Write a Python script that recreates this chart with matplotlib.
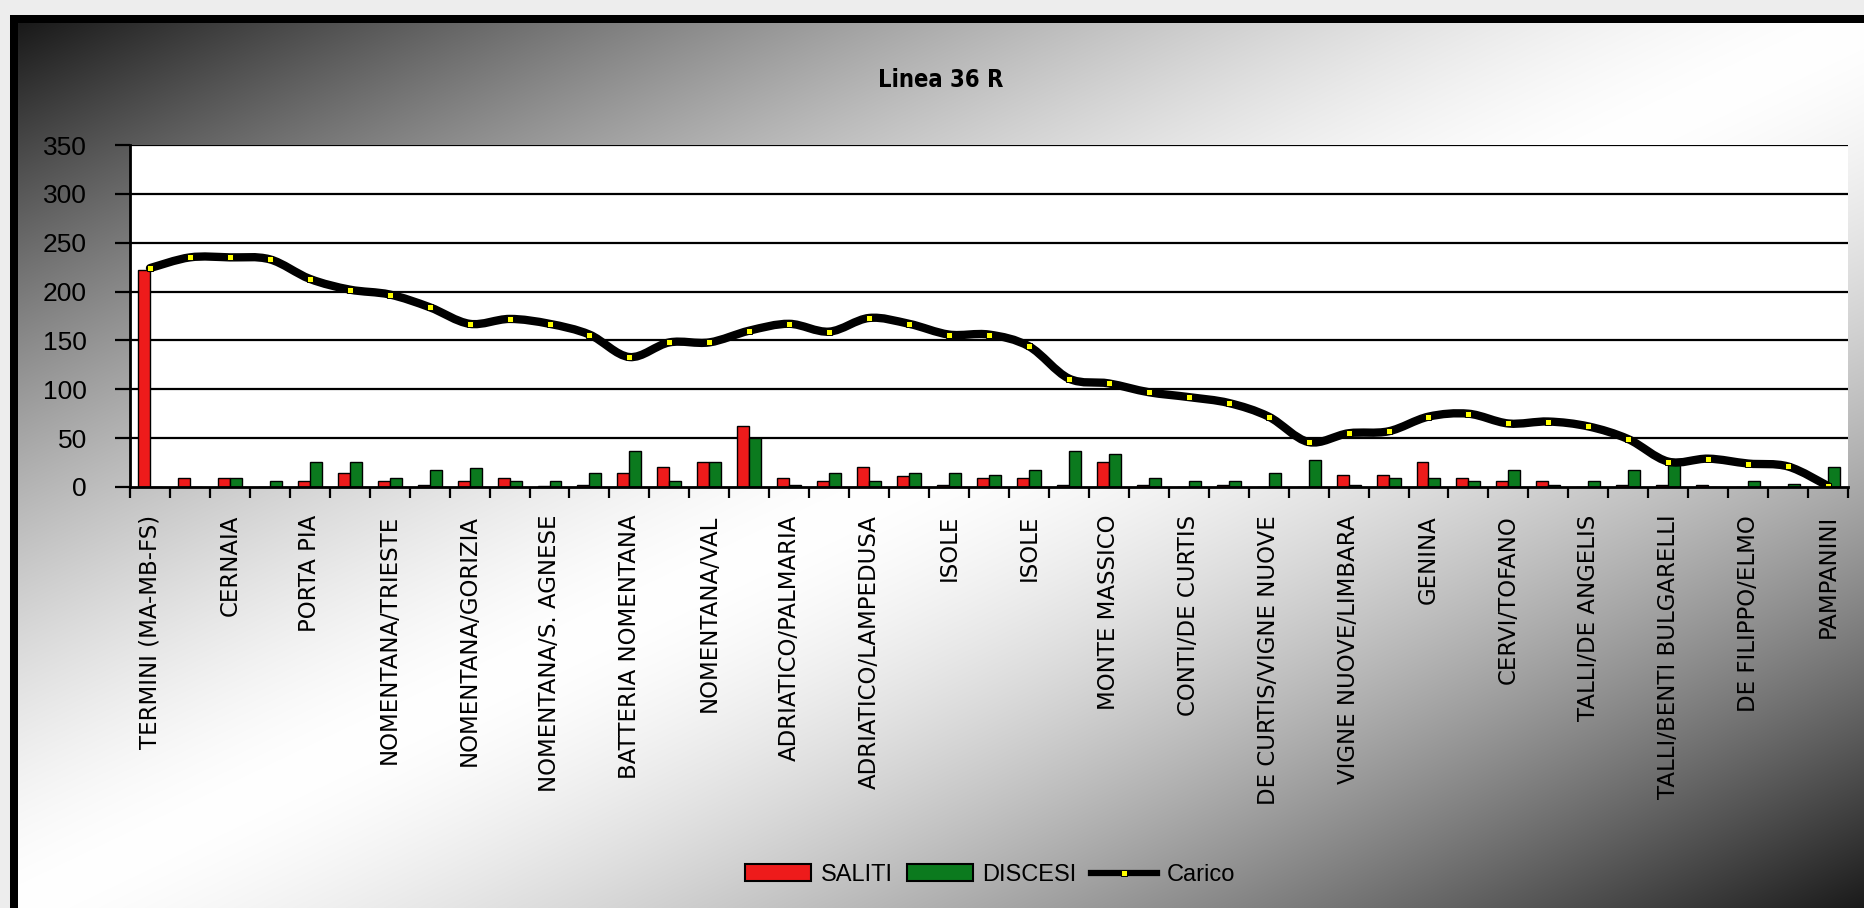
import numpy as np
import matplotlib
matplotlib.use("Agg")
import matplotlib.pyplot as plt
from matplotlib.path import Path
from matplotlib.patches import PathPatch, Patch
from matplotlib.lines import Line2D

# ---------------- data ----------------
labels = ["TERMINI (MA-MB-FS)", "CERNAIA", "PORTA PIA", "NOMENTANA/TRIESTE",
          "NOMENTANA/GORIZIA", "NOMENTANA/S. AGNESE", "BATTERIA NOMENTANA",
          "NOMENTANA/VAL", "ADRIATICO/PALMARIA", "ADRIATICO/LAMPEDUSA", "ISOLE",
          "ISOLE", "MONTE MASSICO", "CONTI/DE CURTIS", "DE CURTIS/VIGNE NUOVE",
          "VIGNE NUOVE/LIMBARA", "GENINA", "CERVI/TOFANO", "TALLI/DE ANGELIS",
          "TALLI/BENTI BULGARELLI", "DE FILIPPO/ELMO", "PAMPANINI"]

saliti = [222, 9, 9, 0, 6, 14, 6, 2, 6, 9,
          1, 2, 14, 20, 26, 62, 9, 6, 20, 11,
          2, 9, 9, 2, 26, 2, 0, 2, 0, 0,
          12, 12, 26, 9, 6, 6, 0, 2, 2, 2,
          0, 0, 0]
discesi = [0, 0, 9, 6, 26, 26, 9, 17, 19, 6,
           6, 14, 37, 6, 26, 50, 2, 14, 6, 14,
           14, 12, 17, 37, 34, 9, 6, 6, 14, 28,
           2, 9, 9, 6, 17, 2, 6, 17, 23, 0,
           6, 3, 20]
carico = [224, 235, 235, 233, 213, 202, 197, 184, 167, 172,
          167, 156, 133, 148, 148, 160, 167, 159, 173, 167,
          156, 156, 144, 111, 106, 97, 92, 86, 72, 46,
          55, 57, 72, 75, 65, 67, 62, 49, 26, 29,
          24, 21, 1]
series_names = ["SALITI", "DISCESI", "Carico"]
title = "Linea 36 R"

# ---------------- figure ----------------
W, H = 1865, 908
fig = plt.figure(figsize=(W / 100, H / 100), dpi=100)

# background gradient + border
bg = fig.add_axes([0, 0, 1, 1], zorder=-10)
bg.axis("off")
yy, xx = np.mgrid[0:H, 0:W]
u = (xx - 18) / (W - 18) + (yy - 24) / (H - 24)
b = 0.1 + 0.9 * (1 - np.clip(np.abs(u - 1), 0, 1) ** 1.5)
b[(yy >= 15) & (yy < 23) & (xx >= 10)] = 0.0
b[(xx >= 10) & (xx < 18) & (yy >= 15)] = 0.0
b[yy < 15] = 0.93
b[xx < 10] = 0.93
bg.imshow(np.dstack([b, b, b]), extent=[0, 1, 0, 1], aspect="auto",
          origin="upper", interpolation="bilinear")
bg.set_xlim(0, 1)
bg.set_ylim(0, 1)

ax = fig.add_axes([130 / W, 1 - 487 / H, (1848 - 130) / W, (487 - 145) / H])
ax.set_facecolor("white")

n = len(carico)
x = np.arange(n)
bw = 0.3
ax.bar(x - bw / 2, saliti, bw, color="#ee1b1b", edgecolor="black", lw=1.0, zorder=3)
ax.bar(x + bw / 2, discesi, bw, color="#0b7a1e", edgecolor="black", lw=1.0, zorder=3)

# smoothed line through the points (Bezier segments, like Excel smoothing)
pts = np.column_stack([x, carico]).astype(float)
verts = [tuple(pts[0])]
codes = [Path.MOVETO]
for i in range(n - 1):
    p0 = pts[i - 1] if i > 0 else pts[i]
    p1 = pts[i]
    p2 = pts[i + 1]
    p3 = pts[i + 2] if i + 2 < n else pts[i + 1]
    c1 = p1 + (p2 - p0) / 6.0
    c2 = p2 - (p3 - p1) / 6.0
    verts += [tuple(c1), tuple(c2), tuple(p2)]
    codes += [Path.CURVE4] * 3
ax.add_patch(PathPatch(Path(verts, codes), fill=False, edgecolor="black",
                       lw=6, capstyle="round", joinstyle="round", zorder=4))
ax.plot(x, carico, ls="none", marker="s", ms=5, mfc="#ffff00", mec="black",
        mew=0.7, zorder=5)

ax.set_xlim(-0.5, n - 0.5)
ax.set_ylim(0, 350)
ax.set_yticks(range(0, 351, 50))
for yv in range(50, 351, 50):
    ax.axhline(yv, color="black", lw=1.6, zorder=1)
for s in ["top", "right"]:
    ax.spines[s].set_visible(False)
for s in ["left", "bottom"]:
    ax.spines[s].set_linewidth(2)
    ax.spines[s].set_color("black")
ax.spines["bottom"].set_zorder(6)

ax.tick_params(axis="y", direction="out", length=11, width=1.6, pad=20,
               labelsize=19)
for t in ax.get_yticklabels():
    t.set_family("Liberation Sans")

ax.set_xticks(x[::2])
ax.set_xticklabels(labels, rotation=90, fontsize=16.5, family="DejaVu Sans")
ax.tick_params(axis="x", which="major", length=0, pad=20)
ax.set_xticks(np.arange(-0.5, n, 1), minor=True)
ax.tick_params(axis="x", which="minor", length=8, width=1.6, direction="out")

fig.text(941 / W, 1 - 80 / H, title, ha="center", va="center", fontsize=17,
         fontweight="bold", family="DejaVu Sans", fontstretch="condensed")

handles = [Patch(facecolor="#ee1b1b", edgecolor="black", lw=1.5),
           Patch(facecolor="#0b7a1e", edgecolor="black", lw=1.5),
           Line2D([0], [0], color="black", lw=4.5, marker="s", ms=5,
                  mfc="#ffff00", mec="black", mew=0.7)]
fig.legend(handles, series_names, loc="center", bbox_to_anchor=(990 / W, 1 - 875 / H),
           ncol=3, frameon=False, prop={"family": "Liberation Sans", "size": 17},
           handlelength=2.8, handleheight=0.75, columnspacing=0.6, handletextpad=0.4)

fig.savefig("out.png", dpi=100)
